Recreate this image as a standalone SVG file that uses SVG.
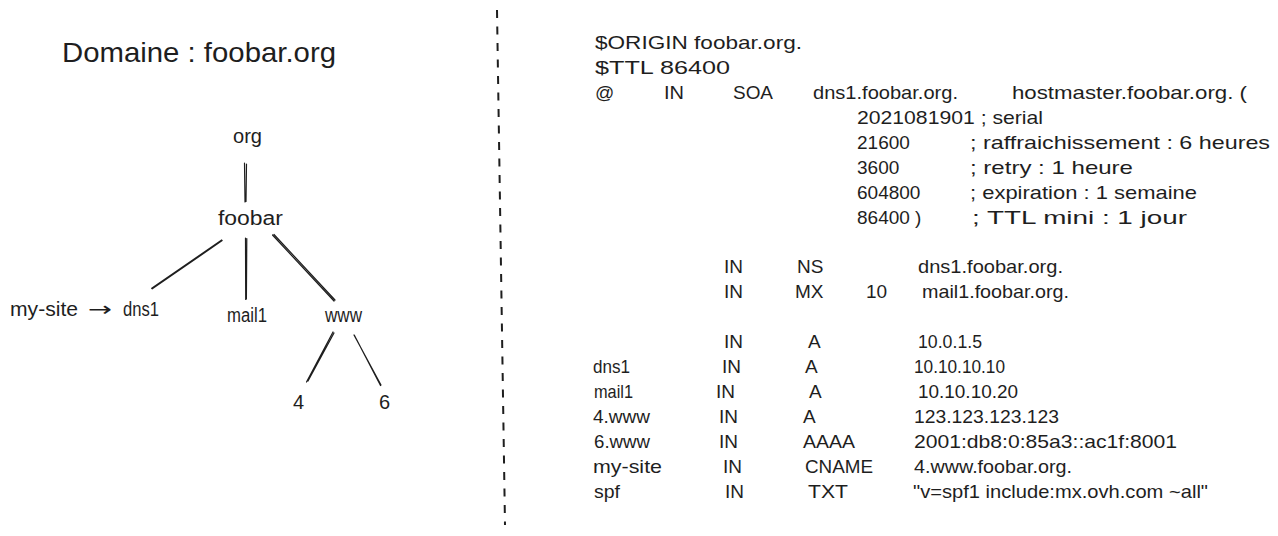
<svg xmlns="http://www.w3.org/2000/svg" width="1278" height="536" viewBox="0 0 1278 536">
<style>
.t{font-family:"Liberation Sans",Arial,"DejaVu Sans",sans-serif;font-size:19px;fill:#1e1e1e}
.n{font-size:20px}
.c{fill:none;stroke:#1e1e1e;stroke-width:1.2;stroke-linecap:round}
.d{fill:none;stroke:#1e1e1e;stroke-width:2;stroke-dasharray:8 8.5}
</style>
<rect width="1278" height="536" fill="#ffffff"/>
<text class="t" x="62" y="62" style="font-size:28px" textLength="274" lengthAdjust="spacingAndGlyphs">Domaine : foobar.org</text>
<g id="node-org"><text class="t n" x="233" y="143" textLength="29" lengthAdjust="spacingAndGlyphs">org</text></g>
<g id="node-foobar"><text class="t n" x="218" y="225" textLength="65" lengthAdjust="spacingAndGlyphs">foobar</text></g>
<g id="node-dns1">
<text class="t n" x="10" y="316" textLength="68" lengthAdjust="spacingAndGlyphs">my-site</text>
<text class="t n" x="88" y="316" style="font-family:'DejaVu Sans',sans-serif" textLength="24" lengthAdjust="spacingAndGlyphs">→</text>
<text class="t n" x="123" y="316" textLength="36" lengthAdjust="spacingAndGlyphs">dns1</text>
</g>
<g id="node-mail1"><text class="t n" x="227" y="322" textLength="40" lengthAdjust="spacingAndGlyphs">mail1</text></g>
<g id="node-www"><text class="t n" x="325" y="322" textLength="37" lengthAdjust="spacingAndGlyphs">www</text></g>
<g id="node-4"><text class="t n" x="293" y="409">4</text></g>
<g id="node-6"><text class="t n" x="379" y="409">6</text></g>
<g id="connectors">
<path class="c" d="M244.5,163 L245,202 M246.5,164 L246,201.5"/>
<path class="c" d="M221.7,240 L151.7,288.3 M222.2,240.6 L152.3,288.8"/>
<path class="c" d="M245.5,238 L245.7,299.5 M246.8,238.5 L246.4,299"/>
<path class="c" d="M272.5,235 L334,301 M274,234.5 L335,300"/>
<path class="c" d="M333,332 L306.5,382 M334,333 L308,381"/>
<path class="c" d="M354,335 L381,385 M354.5,335.5 L380.5,385.5"/>
</g>
<g id="divider"><path class="d" d="M497,10 L505,525"/></g>
<g id="zone" class="t">
<text x="595" y="49" textLength="207" lengthAdjust="spacingAndGlyphs">$ORIGIN foobar.org.</text>
<text x="595" y="74" textLength="135" lengthAdjust="spacingAndGlyphs">$TTL 86400</text>
<text x="595" y="99">@</text>
<text x="664" y="99" textLength="20" lengthAdjust="spacingAndGlyphs">IN</text>
<text x="733" y="99" textLength="40" lengthAdjust="spacingAndGlyphs">SOA</text>
<text x="813" y="99" textLength="145" lengthAdjust="spacingAndGlyphs">dns1.foobar.org.</text>
<text x="1012" y="99" textLength="235" lengthAdjust="spacingAndGlyphs">hostmaster.foobar.org. (</text>
<text x="857" y="124" textLength="186" lengthAdjust="spacingAndGlyphs">2021081901 ; serial</text>
<text x="857" y="149">21600</text>
<text x="970" y="149" textLength="300" lengthAdjust="spacingAndGlyphs">; raffraichissement : 6 heures</text>
<text x="857" y="174">3600</text>
<text x="970" y="174" textLength="163" lengthAdjust="spacingAndGlyphs">; retry : 1 heure</text>
<text x="857" y="199">604800</text>
<text x="970" y="199" textLength="227" lengthAdjust="spacingAndGlyphs">; expiration : 1 semaine</text>
<text x="857" y="224">86400 )</text>
<text x="972" y="224" textLength="215" lengthAdjust="spacingAndGlyphs">; TTL mini : 1 jour</text>

<text x="724" y="273">IN</text>
<text x="797" y="273">NS</text>
<text x="918" y="273" textLength="145" lengthAdjust="spacingAndGlyphs">dns1.foobar.org.</text>

<text x="724" y="298">IN</text>
<text x="795" y="298">MX</text>
<text x="866" y="298">10</text>
<text x="922" y="298" textLength="147" lengthAdjust="spacingAndGlyphs">mail1.foobar.org.</text>

<text x="724" y="348">IN</text>
<text x="808" y="348">A</text>
<text x="918" y="348" textLength="64" lengthAdjust="spacingAndGlyphs">10.0.1.5</text>

<text x="593" y="373" textLength="37" lengthAdjust="spacingAndGlyphs">dns1</text>
<text x="722" y="373">IN</text>
<text x="805" y="373">A</text>
<text x="914" y="373" textLength="91" lengthAdjust="spacingAndGlyphs">10.10.10.10</text>

<text x="594" y="398" textLength="39" lengthAdjust="spacingAndGlyphs">mail1</text>
<text x="716" y="398">IN</text>
<text x="809" y="398">A</text>
<text x="918" y="398" textLength="100" lengthAdjust="spacingAndGlyphs">10.10.10.20</text>

<text x="593" y="423" textLength="57" lengthAdjust="spacingAndGlyphs">4.www</text>
<text x="719" y="423">IN</text>
<text x="803" y="423">A</text>
<text x="914" y="423" textLength="145" lengthAdjust="spacingAndGlyphs">123.123.123.123</text>

<text x="594" y="448" textLength="56" lengthAdjust="spacingAndGlyphs">6.www</text>
<text x="719" y="448">IN</text>
<text x="803" y="448" textLength="52" lengthAdjust="spacingAndGlyphs">AAAA</text>
<text x="914" y="448" textLength="263" lengthAdjust="spacingAndGlyphs">2001:db8:0:85a3::ac1f:8001</text>

<text x="593" y="473" textLength="69" lengthAdjust="spacingAndGlyphs">my-site</text>
<text x="723" y="473">IN</text>
<text x="805" y="473" textLength="68" lengthAdjust="spacingAndGlyphs">CNAME</text>
<text x="914" y="473" textLength="158" lengthAdjust="spacingAndGlyphs">4.www.foobar.org.</text>

<text x="594" y="498" textLength="26" lengthAdjust="spacingAndGlyphs">spf</text>
<text x="725" y="498">IN</text>
<text x="808" y="498" textLength="40" lengthAdjust="spacingAndGlyphs">TXT</text>
<text x="913" y="498" textLength="295" lengthAdjust="spacingAndGlyphs">"v=spf1 include:mx.ovh.com ~all"</text>
</g>
</svg>
